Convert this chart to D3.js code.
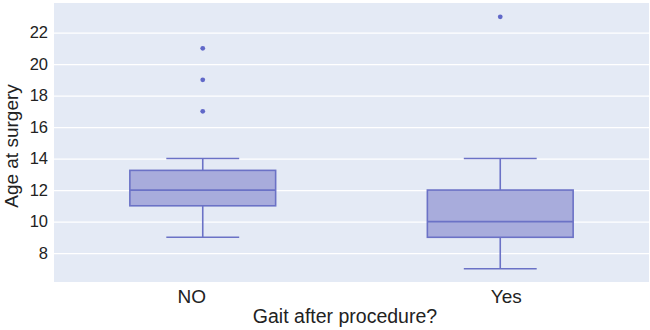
<!DOCTYPE html>
<html><head><meta charset="utf-8">
<script src="https://cdn.jsdelivr.net/npm/d3@7"></script>
<style>body{margin:0;background:#fff}svg{display:block}text{font-family:"Liberation Sans",Arial,sans-serif;fill:#222}</style>
</head><body><svg id="c" width="650" height="330"></svg>
<script>
const categories = ["NO", "Yes"];
const q1 = [11, 9];
const medians = [12, 10];
const q3 = [13.25, 12];
const lowerWhisker = [9, 7];
const upperWhisker = [14, 14];
const outliers = [[17, 19, 21], [23]];
const yTicks = [8, 10, 12, 14, 16, 18, 20, 22];

const svg = d3.select("#c");
const L = 54, R = 649, T = 3, B = 282;
const x = d3.scaleBand().domain(categories).range([L, R]);
const y = d3.scaleLinear().domain([6.16, 23.88]).range([B, T]);

svg.append("rect").attr("x", L).attr("y", T).attr("width", R - L).attr("height", B - T).attr("fill", "#e4eaf5");

const yAxis = svg.append("g").attr("transform", `translate(${L},0)`)
  .call(d3.axisLeft(y).tickValues(yTicks).tickSize(-(R - L)).tickPadding(6));
yAxis.select(".domain").remove();
yAxis.selectAll(".tick line").attr("stroke", "#fff").attr("stroke-width", 1.2);
yAxis.selectAll(".tick text").style("font-size", "16.5px").attr("fill", "#222");

const xAxis = svg.append("g").attr("transform", `translate(0,${B})`)
  .call(d3.axisBottom(x).tickSize(0).tickPadding(8));
xAxis.select(".domain").remove();
xAxis.selectAll(".tick text").style("font-size", "19px").attr("fill", "#222")
  .attr("dx", (d, i) => [-11, 6][i]);

const stroke = "#6b72c6", fill = "#a8acdc";
const boxW = x.bandwidth() * 0.49, capW = boxW / 2;
categories.forEach((c, i) => {
  const cx = x(c) + x.bandwidth() / 2;
  const g = svg.append("g");
  g.append("line").attr("x1", cx).attr("x2", cx).attr("y1", y(upperWhisker[i])).attr("y2", y(q3[i])).attr("stroke", stroke).attr("stroke-width", 1.6);
  g.append("line").attr("x1", cx).attr("x2", cx).attr("y1", y(q1[i])).attr("y2", y(lowerWhisker[i])).attr("stroke", stroke).attr("stroke-width", 1.6);
  g.append("line").attr("x1", cx - capW / 2).attr("x2", cx + capW / 2).attr("y1", y(upperWhisker[i])).attr("y2", y(upperWhisker[i])).attr("stroke", stroke).attr("stroke-width", 1.6);
  g.append("line").attr("x1", cx - capW / 2).attr("x2", cx + capW / 2).attr("y1", y(lowerWhisker[i])).attr("y2", y(lowerWhisker[i])).attr("stroke", stroke).attr("stroke-width", 1.6);
  g.append("rect").attr("x", cx - boxW / 2).attr("width", boxW).attr("y", y(q3[i])).attr("height", y(q1[i]) - y(q3[i]))
    .attr("fill", fill).attr("stroke", stroke).attr("stroke-width", 1.6);
  g.append("line").attr("x1", cx - boxW / 2).attr("x2", cx + boxW / 2).attr("y1", y(medians[i])).attr("y2", y(medians[i])).attr("stroke", stroke).attr("stroke-width", 1.8);
  outliers[i].forEach(v => g.append("circle").attr("cx", cx).attr("cy", y(v)).attr("r", 2.4).attr("fill", "#6068c8"));
});

svg.append("text").attr("x", 345).attr("y", 323).attr("text-anchor", "middle").style("font-size", "19.5px").text("Gait after procedure?");
svg.append("text").attr("transform", `translate(18,146) rotate(-90)`).attr("text-anchor", "middle").style("font-size", "19px").text("Age at surgery");
</script></body></html>
